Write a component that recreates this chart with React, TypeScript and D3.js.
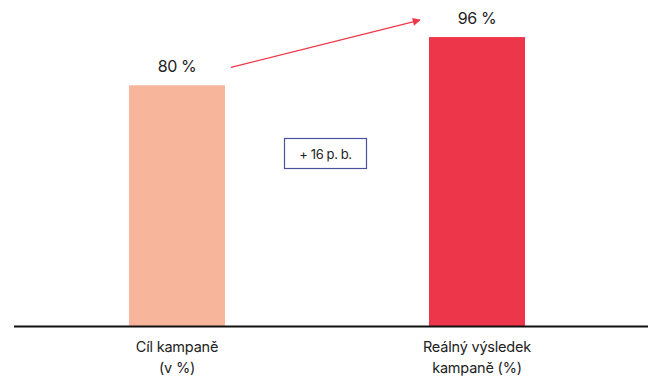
import React from "react";
import * as d3 from "d3";

// Campaign target vs. actual result
const categories = ["Cíl kampaně|(v %)", "Reálný výsledek|kampaně (%)"];
const values = [80, 96];
const valueLabels = ["80 %", "96 %"];
const barColors = ["#F7B69C", "#EE364B"];
const deltaLabel = "+ 16 p. b.";

const W = 648;
const H = 376;
const FONT = "Inter, 'Noto Sans', sans-serif";

export default function App() {
  const baseY = 326.5;
  const x = d3.scaleBand<string>().domain(categories).range([27, 627]).paddingInner(0.68).paddingOuter(0.34);
  const y = d3.scaleLinear().domain([0, 100]).range([baseY, 25]);
  const bw = x.bandwidth();

  const cx = (i: number) => (x(categories[i]) as number) + bw / 2;

  // arrow from first label to second bar label
  const ax1 = cx(0) + 54;
  const ay1 = y(values[0]) - 18;
  const ax2 = cx(1) - 57;
  const ay2 = y(values[1]) - 17;

  return (
    <svg width={W} height={H} style={{ position: "absolute", left: 0, top: 0, background: "#fff" }}>
      <defs>
        <marker id="arrowHead" viewBox="0 0 10 10" refX="9" refY="5" markerWidth="10" markerHeight="8" orient="auto" markerUnits="userSpaceOnUse">
          <path d="M0,0 L10,5 L0,10 z" fill="#EE364B" />
        </marker>
      </defs>
      {values.map((v, i) => (
        <rect key={i} x={x(categories[i])} y={y(v)} width={bw} height={baseY - y(v)} fill={barColors[i]} />
      ))}
      {values.map((v, i) => (
        <text key={"l" + i} x={cx(i)} y={y(v) - 13} textAnchor="middle" fontFamily={FONT} fontSize={16} letterSpacing={-0.4} fill="#222">
          {valueLabels[i]}
        </text>
      ))}
      <line x1={14} x2={W} y1={baseY} y2={baseY} stroke="#111" strokeWidth={2} />
      {categories.map((c, i) =>
        c.split("|").map((t, j) => (
          <text key={c + j} x={cx(i)} y={352 + j * 21} textAnchor="middle" fontFamily={FONT} fontSize={14.5} letterSpacing={-0.2} fill="#222">
            {t}
          </text>
        ))
      )}
      <line x1={ax1} y1={ay1} x2={ax2} y2={ay2} stroke="#EE364B" strokeWidth={1.3} markerEnd="url(#arrowHead)" />
      <rect x={284.5} y={138.5} width={82} height={30} fill="#fff" stroke="#4A4F9E" strokeWidth={1.2} />
      <text x={325.5} y={158.5} textAnchor="middle" fontFamily={FONT} fontSize={13} letterSpacing={-0.4} fill="#222">
        {deltaLabel}
      </text>
    </svg>
  );
}
